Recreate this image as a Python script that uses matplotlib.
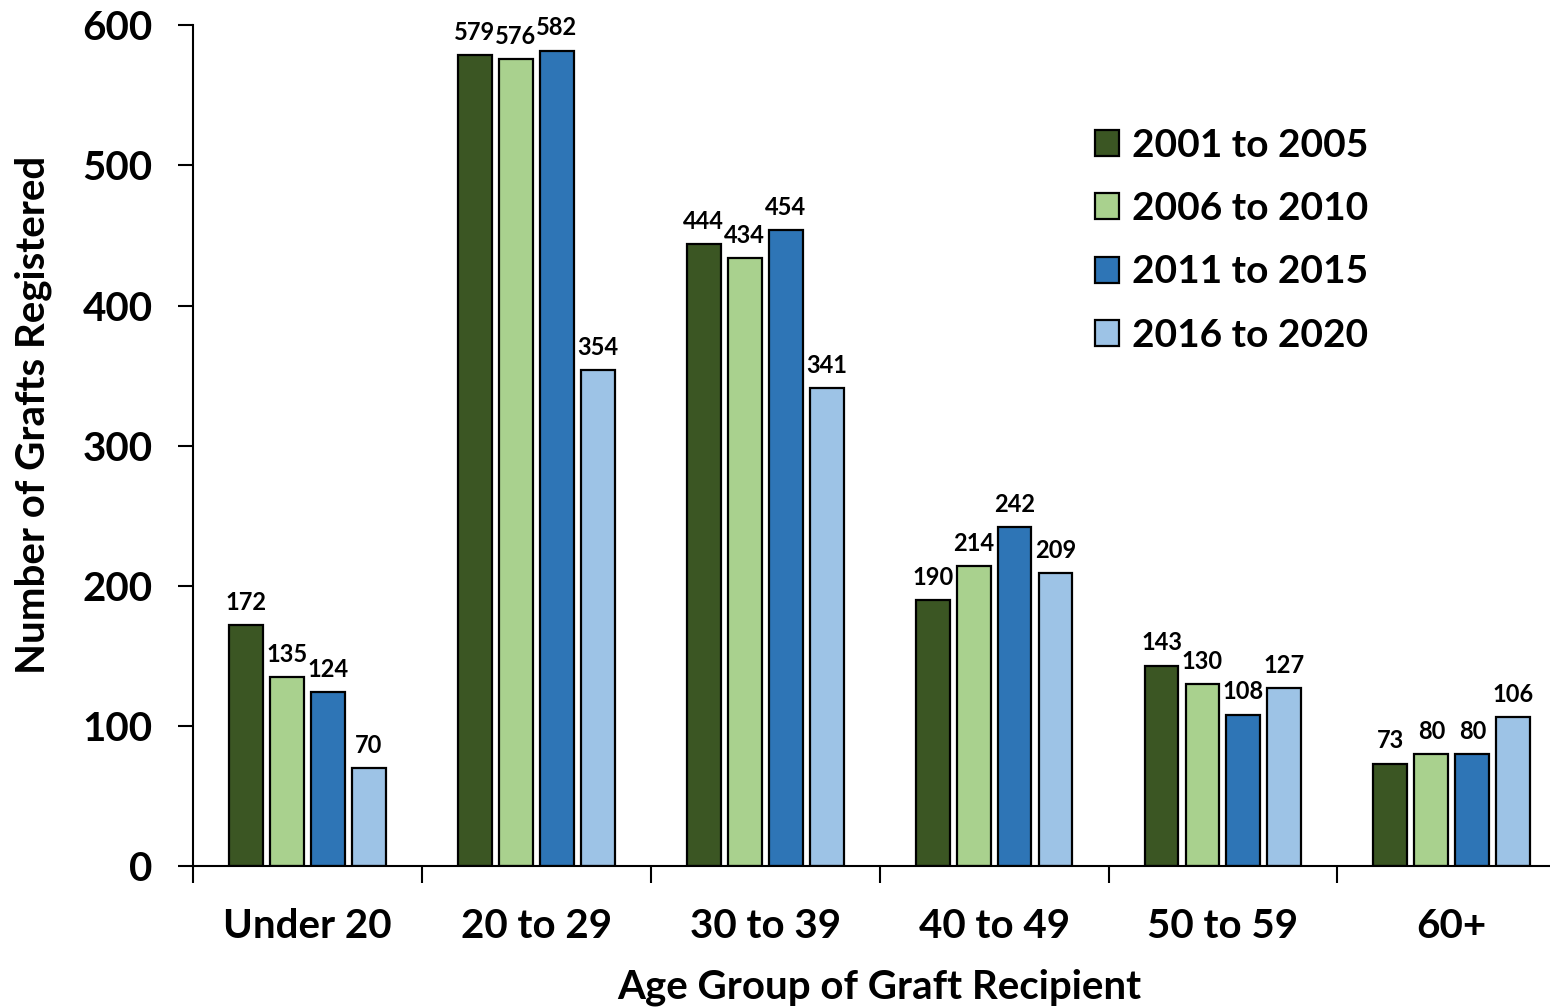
import numpy as np
import matplotlib
matplotlib.use("Agg")
import matplotlib.pyplot as plt

# data
age_groups = ["Under 20", "20 to 29", "30 to 39", "40 to 49", "50 to 59", "60+"]
periods = ["2001 to 2005", "2006 to 2010", "2011 to 2015", "2016 to 2020"]
grafts_2001_2005 = [172, 579, 444, 190, 143, 73]
grafts_2006_2010 = [135, 576, 434, 214, 130, 80]
grafts_2011_2015 = [124, 582, 454, 242, 108, 80]
grafts_2016_2020 = [70, 354, 341, 209, 127, 106]
series = [grafts_2001_2005, grafts_2006_2010, grafts_2011_2015, grafts_2016_2020]
colors = ["#3b5623", "#a9d18e", "#2e75b6", "#9dc3e6"]

plt.rcParams["font.family"] = ["Lato", "DejaVu Sans"]
plt.rcParams["font.weight"] = "bold"

fig = plt.figure(figsize=(15.5, 10.08), dpi=100)
ax = fig.add_axes([0.1245, 0.1409, 0.886, 0.834])

x = np.arange(len(age_groups)) + 0.5
step = 0.179
width = 0.148
for i, (vals, col, lab) in enumerate(zip(series, colors, periods)):
    pos = x + (i - 1.5) * step
    bars = ax.bar(pos, vals, width, color=col, edgecolor="black",
                  linewidth=1.6, label=lab)
    for b, v in zip(bars, vals):
        ax.text(b.get_x() + b.get_width() / 2, v + 8, str(v),
                ha="center", va="bottom", fontsize=17, fontweight="bold")

ax.set_xlim(0, len(age_groups))
ax.set_ylim(0, 600)
ax.set_yticks(range(0, 601, 100))
ax.set_xticks(range(0, len(age_groups) + 1))
ax.set_xticklabels([])
ax.set_xticks(x, minor=True)
ax.set_xticklabels(age_groups, minor=True)
ax.tick_params(axis="x", which="minor", length=0, pad=30, labelsize=29)
ax.tick_params(axis="x", which="major", length=12, width=1.5, direction="out")
ax.tick_params(axis="y", length=11, width=1.5, labelsize=29, pad=18)

for s in ["top", "right"]:
    ax.spines[s].set_visible(False)
for s in ["left", "bottom"]:
    ax.spines[s].set_linewidth(1.5)

ax.set_ylabel("Number of Grafts Registered", fontsize=29, fontweight="bold")
ax.yaxis.set_label_coords(-0.1027, 0.536)
ax.set_xlabel("Age Group of Graft Recipient", fontsize=29, fontweight="bold")
ax.xaxis.set_label_coords(0.5, -0.122)

ax.legend(loc="upper left", bbox_to_anchor=(0.631, 0.92), frameon=False,
          fontsize=28, handlelength=0.64, handleheight=0.64,
          handletextpad=0.32, labelspacing=0.73)

fig.savefig("out.png", dpi=100)
